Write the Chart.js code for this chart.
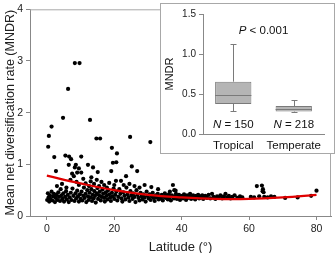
<!DOCTYPE html>
<html>
<head>
<meta charset="utf-8">
<script src="https://cdn.jsdelivr.net/npm/chart.js@4.4.1/dist/chart.umd.min.js"></script>
<style>
  html, body { margin: 0; padding: 0; background: #fff; }
  #wrap { position: relative; width: 335px; height: 253px; }
  #main { position: absolute; left: 0; top: 0; }
  #insetBox { position: absolute; left: 160px; top: 3px; width: 173px; height: 149px;
              border: 1px solid #a8a8a8; background: #fff; }
  #inset { position: absolute; left: 0; top: 0; }
</style>
</head>
<body>
<div id="wrap">
  <canvas id="main" width="335" height="253"></canvas>
  <div id="insetBox"><canvas id="inset" width="173" height="149"></canvas></div>
</div>
<script>
// ---- data ----
const latTicks = [0, 20, 40, 60, 80];
const rateTicks = [0, 1, 2, 3, 4];

// [latitude, MNDR]
const outlierPts = [
  [1.4,1.73],[4.8,1.90],[6.3,2.46],[8.3,2.96],[9.7,2.96],[12.8,1.86],
  [0.6,1.55],[0.4,1.34],[2.2,1.14],[2.7,0.87],[14.7,1.50],[15.8,1.50],
  [5.5,1.17],[6.6,1.15],[7.2,1.10],[10.2,1.15],[6.5,0.99],[8.6,0.99],[8.3,0.94],[9.5,0.92],
  [12.2,0.99],[13.7,0.94],[9.0,0.84],[10.2,0.84],[7.5,0.82],[8.0,0.77],[15.1,0.85],[13.2,0.75],
  [24.7,1.53],[30.7,1.43],[19.3,1.32],[20.8,1.21],[19.6,1.03],[20.6,1.04],[25.2,0.96],
  [26.8,0.87],[19.1,0.87],[23.5,0.77]
];
const midPts = [
  [3.0,0.58],[4.5,0.62],[5.8,0.55],[7.0,0.70],[8.8,0.66],[9.5,0.60],[10.8,0.72],[11.5,0.63],
  [12.5,0.58],[13.0,0.67],[14.0,0.62],[14.8,0.70],[15.5,0.58],[16.2,0.66],[17.0,0.60],[17.8,0.55],
  [18.5,0.64],[20.5,0.68],[22.0,0.68],[20.0,0.60],[22.8,0.60],[24.5,0.62],[26.0,0.58],[27.5,0.55],
  [29.0,0.60],[31.0,0.56],[33.0,0.52],[37.8,0.50],[38.2,0.49],[36.5,0.47]
];
const tropicPts = [
  [0.1,0.31],[0.3,0.44],[0.5,0.36],[0.7,0.28],[0.9,0.40],[1.1,0.33],[1.4,0.47],[1.6,0.30],
  [1.9,0.38],[2.1,0.43],[2.4,0.27],[2.6,0.35],[2.9,0.41],[3.1,0.31],[3.4,0.46],[3.6,0.37],
  [3.9,0.29],[4.1,0.52],[4.3,0.40],[4.6,0.33],[4.9,0.44],[5.1,0.28],[5.4,0.37],[5.7,0.48],
  [5.9,0.32],[6.2,0.41],[6.5,0.27],[6.8,0.36],[7.1,0.45],[7.3,0.31],[7.6,0.53],[7.9,0.39],
  [8.2,0.29],[8.5,0.44],[8.7,0.34],[9.0,0.49],[9.2,0.38],[9.5,0.28],[9.8,0.42],[10.0,0.33],
  [10.3,0.47],[10.5,0.30],[10.8,0.39],[11.0,0.55],[11.2,0.35],[11.5,0.43],[11.7,0.27],[12.0,0.50],
  [12.2,0.38],[12.4,0.31],[12.7,0.45],[12.9,0.36],[13.2,0.52],[13.4,0.29],[13.6,0.41],[13.9,0.34],
  [14.1,0.48],[14.3,0.39],[14.5,0.26],[14.8,0.44],[15.0,0.54],[15.2,0.33],[15.5,0.40],[15.7,0.47],
  [16.0,0.30],[16.2,0.37],[16.5,0.51],[16.7,0.43],[17.0,0.35],[17.2,0.28],[17.5,0.46],[17.7,0.39],
  [18.0,0.32],[18.2,0.50],[18.5,0.42],[18.8,0.36],[19.0,0.29],[19.3,0.45],[19.5,0.38],[19.8,0.53],
  [20.0,0.33],[20.3,0.41],[20.6,0.47],[20.9,0.30],[21.2,0.37],[21.5,0.52],[21.8,0.43],[22.1,0.34],
  [22.4,0.28],[22.7,0.46],[23.0,0.39],[23.3,0.32]
];
const subtropPts = [
  [23.6,0.55],[23.9,0.42],[24.2,0.36],[24.5,0.29],[24.8,0.48],[25.1,0.40],[25.4,0.33],[25.7,0.44],
  [26.0,0.37],[26.3,0.27],[26.6,0.50],[26.9,0.41],[27.2,0.35],[27.5,0.30],[27.8,0.45],[28.1,0.38],
  [28.4,0.32],[28.7,0.42],[29.0,0.36],[29.3,0.28],[29.6,0.47],[29.9,0.39],
  [30.2,0.34],[30.5,0.42],[30.8,0.31],[31.1,0.38],[31.4,0.45],[31.7,0.35],[32.0,0.29],[32.3,0.40],
  [32.6,0.36],[32.9,0.43],[33.2,0.32],[33.5,0.38],[33.8,0.34],[34.1,0.41],[34.4,0.30],[34.7,0.37],
  [35.0,0.44],[35.3,0.35],[35.6,0.39],[35.9,0.32],[36.2,0.42],[36.5,0.36],[36.8,0.30],[37.1,0.40],
  [37.4,0.60],[37.7,0.34],[38.0,0.38],[38.3,0.43],[38.6,0.33],[38.9,0.37],[39.2,0.41],[39.5,0.31],
  [39.8,0.36]
];
const temperPts = [
  [40.1,0.39],[40.4,0.34],[40.7,0.42],[41.0,0.37],[41.3,0.31],[41.6,0.40],[41.9,0.35],[42.2,0.38],
  [42.5,0.43],[42.8,0.33],[43.1,0.37],[43.4,0.40],[43.7,0.35],[44.0,0.32],[44.3,0.39],[44.6,0.36],
  [44.9,0.41],[45.2,0.34],[45.5,0.38],[45.8,0.36],[46.1,0.40],[46.4,0.33],[46.7,0.37],[47.0,0.39],
  [47.5,0.35],[48.0,0.41],[48.5,0.34],[49.0,0.43],[49.5,0.37],
  [50.0,0.33],[50.5,0.38],[51.0,0.35],[51.5,0.40],[52.0,0.34],[52.5,0.38],[53.0,0.43],[53.5,0.36],
  [54.0,0.39],[54.5,0.34],[55.0,0.37],[55.7,0.40],[56.5,0.35],[57.3,0.38],[58.0,0.36],
  [60.5,0.37],[61.5,0.36],[62.3,0.58],[63.0,0.38],[63.8,0.59],[64.1,0.52],[64.0,0.48],[64.3,0.46],
  [64.5,0.37],[65.5,0.36],[66.5,0.38],[67.5,0.37],[70.7,0.35],[74.4,0.36],[78.4,0.39],[80.0,0.49]
];

// quadratic fit, read at every 10 degrees
const fitLat  = [0, 10, 20, 30, 40, 50, 60, 70, 80];
const fitRate = [0.78, 0.63, 0.50, 0.41, 0.36, 0.33, 0.33, 0.36, 0.41];

// inset box plot
const zones = ['Tropical', 'Temperate'];
const zoneN = [150, 218];
const boxQ1 = [0.375, 0.28];
const boxMedian = [0.487, 0.31];
const boxQ3 = [0.654, 0.35];
const whiskLow = [0.29, 0.27];
const whiskHigh = [1.125, 0.42];
const insetTicks = [0, 0.5, 1.0, 1.5];

const FONT = "'Liberation Sans', Arial, sans-serif";
Chart.defaults.font.family = FONT;
Chart.defaults.color = '#222';
Chart.defaults.plugins.legend.display = false;
Chart.defaults.plugins.tooltip.enabled = false;
Chart.defaults.animation = false;

const toXY = arr => arr.map(p => ({ x: p[0], y: p[1] }));
const allPts = [].concat(outlierPts, midPts, tropicPts, subtropPts, temperPts);

// light frame on top and right of the plot area
const framePlugin = {
  id: 'frame',
  beforeDatasetsDraw(chart) {
    const a = chart.chartArea, c = chart.ctx;
    c.save();
    c.strokeStyle = '#a8a8a8';
    c.lineWidth = 1;
    c.beginPath();
    c.moveTo(a.left, a.top + 0.5);
    c.lineTo(a.right - 0.5, a.top + 0.5);
    c.lineTo(a.right - 0.5, a.bottom);
    c.stroke();
    c.restore();
  }
};

new Chart(document.getElementById('main'), {
  type: 'scatter',
  data: {
    datasets: [{
      type: 'line',
      data: fitLat.map((x, i) => ({ x: x, y: fitRate[i] })),
      borderColor: '#e00000',
      borderWidth: 2.2,
      pointRadius: 0,
      tension: 0.4,
      fill: false,
      order: 0
    }, {
      data: toXY(allPts),
      backgroundColor: '#000',
      borderWidth: 0,
      pointRadius: 2.1,
      order: 1
    }]
  },
  options: {
    responsive: false,
    layout: { padding: { top: 4, right: 2, left: 0, bottom: 0 } },
    scales: {
      x: {
        type: 'linear', min: -5, max: 84.3,
        afterBuildTicks: s => { s.ticks = latTicks.map(v => ({ value: v })); },
        afterFit: s => { s.height = 37; },
        grid: { drawOnChartArea: false, tickLength: 4, color: '#888' },
        border: { color: '#888' },
        ticks: { font: { size: 10.5 }, padding: 3, maxRotation: 0 },
        title: { display: true, text: 'Latitude (°)', font: { size: 13 }, padding: { top: 0, bottom: -2 } }
      },
      y: {
        min: 0, max: 4,
        afterBuildTicks: s => { s.ticks = rateTicks.map(v => ({ value: v })); },
        afterFit: s => { s.width = 30; },
        grid: { drawOnChartArea: false, tickLength: 4, color: '#888' },
        border: { color: '#888' },
        ticks: { font: { size: 10.5 }, padding: 3 },
        title: { display: true, text: 'Mean net diversification rate (MNDR)', font: { size: 12.5 }, padding: 3 }
      }
    }
  },
  plugins: [framePlugin]
});

// medians, whiskers and labels for the inset, placed through its scales
const boxPlugin = {
  id: 'boxExtras',
  afterDatasetsDraw(chart) {
    const c = chart.ctx, xs = chart.scales.x, ys = chart.scales.y;
    const meta = chart.getDatasetMeta(0);
    c.save();
    zones.forEach((z, i) => {
      const bar = meta.data[i];
      const cx = xs.getPixelForValue(i);
      const half = bar.width / 2;
      c.strokeStyle = '#7a7a7a';
      c.lineWidth = 1;
      // median
      c.beginPath();
      c.moveTo(cx - half, Math.round(ys.getPixelForValue(boxMedian[i])) + 0.5);
      c.lineTo(cx + half, Math.round(ys.getPixelForValue(boxMedian[i])) + 0.5);
      // whiskers
      const yQ3 = ys.getPixelForValue(boxQ3[i]), yQ1 = ys.getPixelForValue(boxQ1[i]);
      const yHi = Math.round(ys.getPixelForValue(whiskHigh[i])) + 0.5;
      const yLo = Math.round(ys.getPixelForValue(whiskLow[i])) + 0.5;
      const xc = Math.round(cx) + 0.5;
      c.moveTo(xc, yQ3); c.lineTo(xc, yHi);
      c.moveTo(xc, yQ1); c.lineTo(xc, yLo);
      c.moveTo(xc - 3, yHi); c.lineTo(xc + 3, yHi);
      c.moveTo(xc - 3, yLo); c.lineTo(xc + 3, yLo);
      c.stroke();
      // N labels
      const ny = ys.getPixelForValue(0.11);
      c.fillStyle = '#111';
      c.textBaseline = 'middle';
      const rest = ' = ' + zoneN[i];
      c.font = '11.5px ' + FONT;
      const wRest = c.measureText(rest).width;
      c.font = 'italic 11.5px ' + FONT;
      const wN = c.measureText('N').width;
      const x0 = cx - (wN + wRest) / 2;
      c.textAlign = 'left';
      c.fillText('N', x0, ny);
      c.font = '11.5px ' + FONT;
      c.fillText(rest, x0 + wN, ny);
    });
    // P value
    const px = xs.getPixelForValue(0.5), py = ys.getPixelForValue(1.29);
    c.font = '11.5px ' + FONT;
    const pRest = ' < 0.001';
    const wR = c.measureText(pRest).width;
    c.font = 'italic 11.5px ' + FONT;
    const wP = c.measureText('P').width;
    const p0 = px - (wP + wR) / 2;
    c.fillStyle = '#111';
    c.textBaseline = 'middle';
    c.textAlign = 'left';
    c.fillText('P', p0, py);
    c.font = '11.5px ' + FONT;
    c.fillText(pRest, p0 + wP, py);
    c.restore();
  }
};

new Chart(document.getElementById('inset'), {
  type: 'bar',
  data: {
    labels: zones,
    datasets: [{
      data: zones.map((z, i) => [boxQ1[i], boxQ3[i]]),
      backgroundColor: '#b5b5b5',
      borderColor: '#7a7a7a',
      borderWidth: 1,
      borderSkipped: false,
      barPercentage: 0.6,
      categoryPercentage: 1
    }]
  },
  options: {
    responsive: false,
    layout: { padding: { top: 10, right: 10, left: 0, bottom: 0 } },
    scales: {
      x: {
        afterFit: s => { s.height = 19; },
        grid: { display: false, drawTicks: false },
        border: { color: '#888' },
        ticks: { font: { size: 11.5 }, padding: 5, color: '#111' }
      },
      y: {
        min: 0, max: 1.5,
        afterBuildTicks: s => { s.ticks = insetTicks.map(v => ({ value: v })); },
        afterFit: s => { s.width = 42; },
        grid: { drawOnChartArea: false, tickLength: 4, color: '#888' },
        border: { color: '#888' },
        ticks: { font: { size: 10 }, padding: 3, callback: v => v.toFixed(1) },
        title: { display: true, text: 'MNDR', font: { size: 11 }, padding: 2, color: '#111' }
      }
    }
  },
  plugins: [boxPlugin]
});
</script>
</body>
</html>
